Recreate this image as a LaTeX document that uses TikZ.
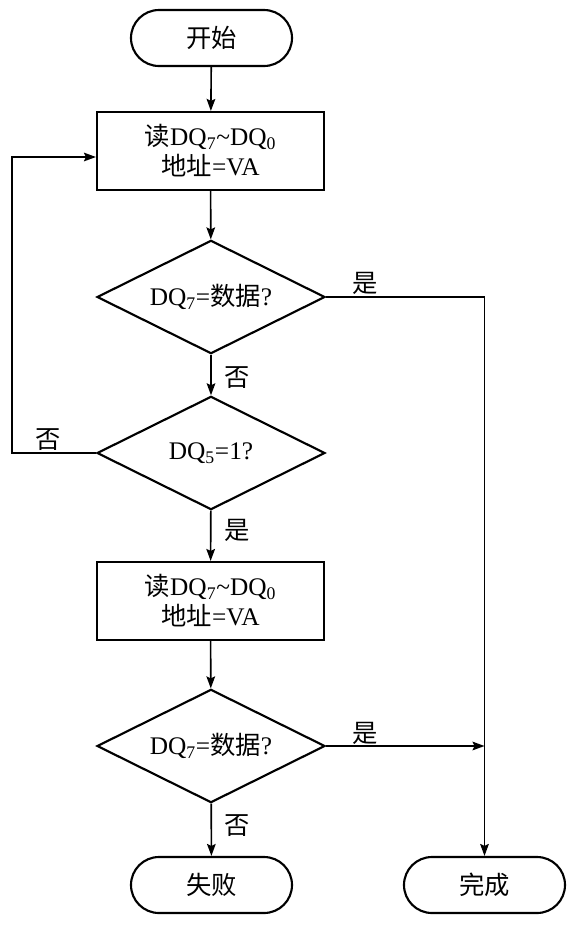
\documentclass[tikz,border=0pt]{standalone}
\usepackage{fontspec}
\setmainfont{Liberation Serif}
\newfontfamily\cjk{Noto Sans CJK SC}
\usepackage{tikz}
\usetikzlibrary{arrows.meta,shapes.geometric}
\newcommand{\zh}[1]{{\cjk #1}}

\tikzset{
  term/.style={draw,line width=1.6pt,rectangle,rounded corners=21pt,minimum width=120.75pt,minimum height=42pt,font=\fontsize{19pt}{22pt}\selectfont},
  proc/.style={draw,line width=1.6pt,rectangle,minimum width=170.25pt,minimum height=58.5pt,align=center,font=\fontsize{19pt}{22.5pt}\selectfont},
  dec/.style={draw,line width=1.6pt,diamond,aspect=2,inner sep=0pt,minimum width=171pt,minimum height=85pt,font=\fontsize{19pt}{22pt}\selectfont},
  lbl/.style={inner sep=0.75pt,font=\fontsize{19pt}{22pt}\selectfont},
  arr/.style={line width=1.2pt,-{Stealth[length=9pt,width=6.5pt,inset=1.5pt]}},
  ln/.style={line width=1.2pt}
}

\begin{document}
\begin{tikzpicture}[x=0.75pt,y=0.75pt,yscale=-1,xscale=1]
\useasboundingbox (0,0) rectangle (574,926);

% Nodes
\node[term] (start) at (211.5,38) {\zh{开始}};
\node[proc] (read1) at (210.5,151) {\zh{读}DQ\textsubscript{7}\textasciitilde DQ\textsubscript{0}\\\zh{地址}=VA};
\node[dec] (chk1) at (211,297) {DQ\textsubscript{7}=\zh{数据}?};
\node[dec] (chk5) at (211,453) {DQ\textsubscript{5}=1?};
\node[proc] (read2) at (210.5,601) {\zh{读}DQ\textsubscript{7}\textasciitilde DQ\textsubscript{0}\\\zh{地址}=VA};
\node[dec] (chk2) at (211,746) {DQ\textsubscript{7}=\zh{数据}?};
\node[term] (fail) at (211.5,885) {\zh{失败}};
\node[term] (done) at (484.5,885) {\zh{完成}};

% Turning points
\coordinate (jn) at (484.5,297);
\coordinate (jn2) at (484.5,746);
\coordinate (lp) at (12,157);

% Connectors
\draw[arr] (start) -- (read1);
\draw[arr] (read1) -- (chk1);
\draw[arr] (chk1) -- (chk5);
\draw[arr] (chk5) -- (read2);
\draw[arr] (read2) -- (chk2);
\draw[arr] (chk2) -- (fail);
\draw[ln] (chk1.east) -- (jn);
\draw[arr] (jn) -- (done);
\draw[arr] (chk2.east) -- (jn2);
\draw[arr] (chk5.west) -| (lp) -- (lp -| read1.west);

% Labels
\node[lbl] (y1) at (365,283) {\zh{是}};
\node[lbl] (n1) at (237,378) {\zh{否}};
\node[lbl] (n5) at (48,440) {\zh{否}};
\node[lbl] (y5) at (237,530) {\zh{是}};
\node[lbl] (y2) at (365,733) {\zh{是}};
\node[lbl] (n2) at (237,826) {\zh{否}};

\end{tikzpicture}
\end{document}
